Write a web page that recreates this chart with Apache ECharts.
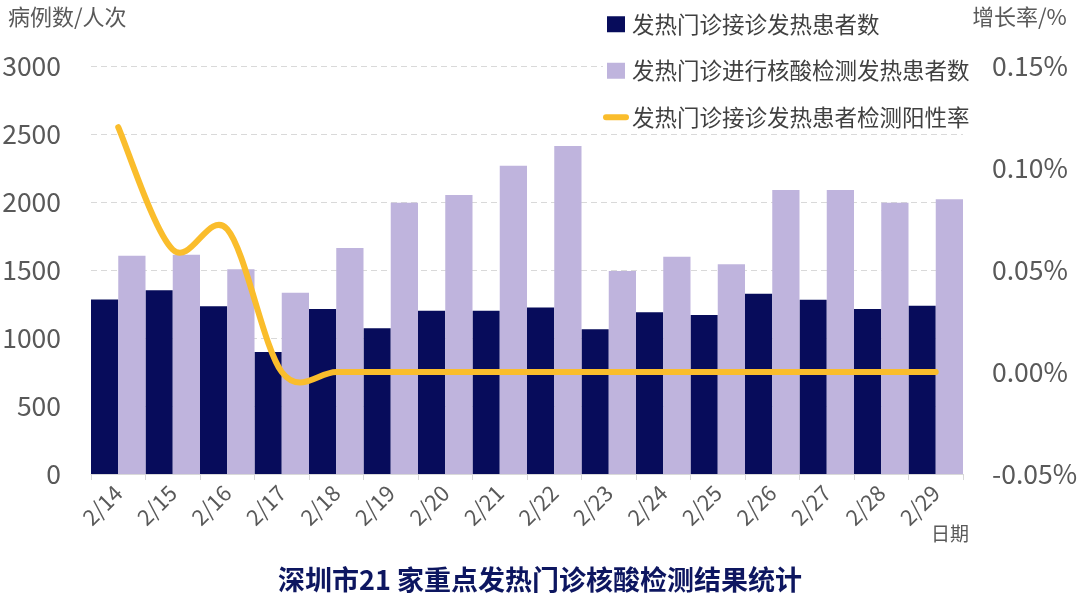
<!DOCTYPE html>
<html>
<head>
<meta charset="utf-8">
<script src="https://cdn.jsdelivr.net/npm/echarts@6/dist/echarts.min.js"></script>
<style>
html,body{margin:0;padding:0;background:#fff;}
#c{width:1080px;height:608px;}
</style>
</head>
<body>
<div id="c"></div>
<script>
var categories = ['2/14','2/15','2/16','2/17','2/18','2/19','2/20','2/21','2/22','2/23','2/24','2/25','2/26','2/27','2/28','2/29'];
var visits = [1284, 1351, 1233, 897, 1213, 1071, 1201, 1201, 1225, 1064, 1189, 1169, 1326, 1282, 1213, 1238];
var tested = [1605, 1613, 1505, 1333, 1662, 1995, 2051, 2267, 2412, 1493, 1598, 1542, 2088, 2088, 1995, 2020];
var positiveRate = [0.120, 0.060, 0.070, 0, 0, 0, 0, 0, 0, 0, 0, 0, 0, 0, 0, 0];
var seriesNames = ['发热门诊接诊发热患者数', '发热门诊进行核酸检测发热患者数', '发热门诊接诊发热患者检测阳性率'];
var leftTicks = {min: 0, max: 3000, interval: 500};
var rightTicks = {min: -0.05, max: 0.15, interval: 0.05};

var FONT = '"Noto Sans CJK SC", "Noto Sans", sans-serif';
var LINE_COLOR = '#fabd2c';
var chart = echarts.init(document.getElementById('c'), null, {renderer: 'canvas'});
var sq = 'path://M0,0h18v16h-18z';
var ln = 'path://M3,0h20a3,3 0 0 1 0,6h-20a3,3 0 0 1 0,-6z';

// smooth curve (Catmull-Rom style, like a spreadsheet "smoothed line") through axis-mapped points
function renderRate(params, api) {
  if (params.dataIndexInside !== 0) return;
  var n = positiveRate.length;
  var p = [];
  for (var i = 0; i < n; i++) p.push(api.coord([i, positiveRate[i]]));
  function P(k) { return p[Math.max(0, Math.min(n - 1, k))]; }
  var d = 'M' + p[0][0] + ' ' + p[0][1];
  for (var j = 0; j < n - 1; j++) {
    var a = P(j - 1), b = P(j), c = P(j + 1), e = P(j + 2);
    var c1x = b[0] + (c[0] - a[0]) / 6, c1y = b[1] + (c[1] - a[1]) / 6;
    var c2x = c[0] - (e[0] - b[0]) / 6, c2y = c[1] - (e[1] - b[1]) / 6;
    d += ' C' + c1x + ' ' + c1y + ' ' + c2x + ' ' + c2y + ' ' + c[0] + ' ' + c[1];
  }
  return {
    type: 'path',
    shape: {pathData: d},
    style: {stroke: LINE_COLOR, lineWidth: 6, fill: null, lineCap: 'round', lineJoin: 'round'}
  };
}

chart.setOption({
  backgroundColor: '#fff',
  animation: false,
  textStyle: {fontFamily: FONT},
  title: {
    text: '深圳市21 家重点发热门诊核酸检测结果统计',
    left: 'center', top: 561,
    textStyle: {fontFamily: FONT, fontSize: 27, fontWeight: 'bold', color: '#0d1660'}
  },
  legend: {
    orient: 'vertical', left: 603, top: 11,
    itemWidth: 26, itemHeight: 16, itemGap: 24,
    backgroundColor: '#fff',
    padding: [2, 4, 2, 0],
    textStyle: {fontFamily: FONT, fontSize: 22.5, color: '#404040', padding: [0,0,0,-2]},
    data: [
      {name: seriesNames[0], icon: sq},
      {name: seriesNames[1], icon: sq},
      {name: seriesNames[2], icon: ln}
    ]
  },
  grid: {left: 91, right: 117, top: 66, bottom: 134, containLabel: false, outerBoundsMode: 'none'},
  xAxis: {
    type: 'category', data: categories, boundaryGap: true,
    axisLine: {lineStyle: {color: '#d9d9d9', width: 1}},
    axisTick: {show: true, length: 6, lineStyle: {color: '#d9d9d9'}},
    axisLabel: {rotate: 45, fontSize: 22, color: '#595959', margin: 15, fontFamily: FONT}
  },
  yAxis: [
    {
      type: 'value', min: leftTicks.min, max: leftTicks.max, interval: leftTicks.interval,
      axisLine: {show: false}, axisTick: {show: false},
      axisLabel: {fontSize: 26.5, color: '#595959', margin: 30, fontFamily: FONT,
        formatter: function (v) { return String(v); }},
      splitLine: {lineStyle: {color: '#d9d9d9', type: [6, 4], width: 1}}
    },
    {
      type: 'value', min: rightTicks.min, max: rightTicks.max, interval: rightTicks.interval,
      axisLine: {show: false}, axisTick: {show: false},
      axisLabel: {fontSize: 26.5, color: '#595959', margin: 29, fontFamily: FONT,
        formatter: function (v) { return (Math.round(v * 100) / 100).toFixed(2) + '%'; }},
      splitLine: {show: false}
    }
  ],
  graphic: [
    {type: 'text', left: 8, top: 6, style: {text: '病例数/人次', fontFamily: FONT, fontSize: 22, fill: '#595959'}},
    {type: 'text', left: 972, top: 6, style: {text: '增长率/%', fontFamily: FONT, fontSize: 22, fill: '#595959'}},
    {type: 'text', left: 931, top: 524, style: {text: '日期', fontFamily: FONT, fontSize: 19, fill: '#595959'}}
  ],
  series: [
    {
      name: seriesNames[0], type: 'bar', data: visits, yAxisIndex: 0,
      barGap: '0%', barCategoryGap: '0%',
      itemStyle: {color: '#070c5b'}
    },
    {
      name: seriesNames[1], type: 'bar', data: tested, yAxisIndex: 0,
      barGap: '0%', barCategoryGap: '0%',
      itemStyle: {color: '#bfb4dd'}
    },
    {
      name: seriesNames[2], type: 'custom', yAxisIndex: 1,
      data: positiveRate.map(function (v, i) { return [i, v]; }),
      encode: {x: 0, y: 1},
      renderItem: renderRate,
      clip: false,
      itemStyle: {color: LINE_COLOR},
      z: 5
    }
  ]
});
</script>
</body>
</html>
